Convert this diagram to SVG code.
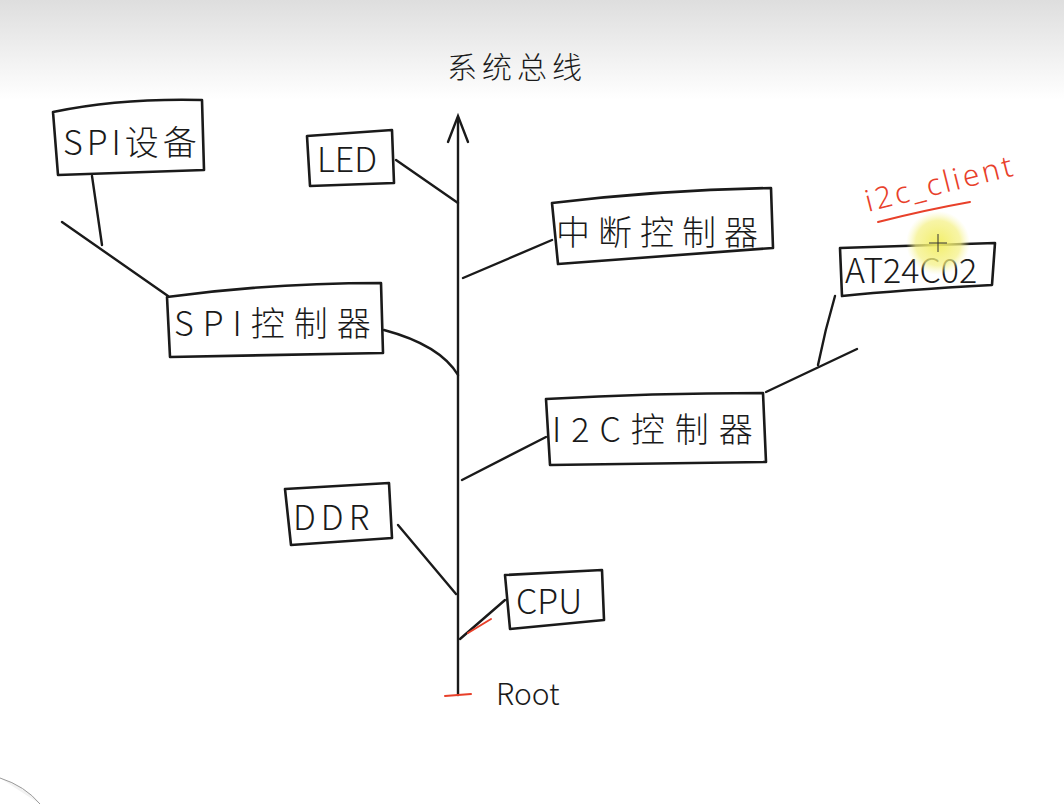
<svg xmlns="http://www.w3.org/2000/svg" width="1064" height="804" viewBox="0 0 1064 804">
<defs>
<linearGradient id="bg" x1="0" y1="0" x2="0" y2="1">
<stop offset="0" stop-color="#dedede"/>
<stop offset="1" stop-color="#ffffff"/>
</linearGradient>
<radialGradient id="hl">
<stop offset="0" stop-color="#f2ee60" stop-opacity="0.95"/>
<stop offset="0.7" stop-color="#f4f080" stop-opacity="0.7"/>
<stop offset="1" stop-color="#f8f6b0" stop-opacity="0"/>
</radialGradient>
</defs>
<style>
.box{fill:none;stroke:#1a1a1a;stroke-width:2.6;stroke-linejoin:round;stroke-linecap:round}
.ln{fill:none;stroke:#1a1a1a;stroke-width:2.4;stroke-linecap:round}
.red{fill:none;stroke:#e8402a;stroke-width:2;stroke-linecap:round}
.t{font-family:"Noto Sans CJK SC","Noto Sans",sans-serif;fill:#1a1a1a;font-weight:300}
</style>
<rect width="1064" height="804" fill="#ffffff"/>
<rect width="1064" height="100" fill="url(#bg)"/>
<path d="M0 778 Q25 786 40 804" fill="#f2f2f2" stroke="#999" stroke-width="1"/>
<g id="title"><text class="t" x="447" y="78" font-size="30" letter-spacing="5">系统总线</text></g>
<g id="connectors">
<path class="ln" d="M458 118 L458 695"/>
<path class="ln" d="M448 142 L458 116 L468 142"/>
<path class="ln" d="M396 160 L458 203"/>
<path class="ln" d="M463 278 L552 240"/>
<path class="ln" d="M384 330 Q440 345 458 375"/>
<path class="ln" d="M62 222 L168 296"/>
<path class="ln" d="M92 176 L102 245"/>
<path class="ln" d="M462 480 L546 437"/>
<path class="ln" d="M766 392 L857 349"/>
<path class="ln" d="M835 296 Q825 330 818 365"/>
<path class="ln" d="M398 525 L456 594"/>
<path class="ln" d="M460 639 L505 600"/>
<path class="red" d="M468 633 L491 619"/>
<path class="red" d="M445 696 L471 694"/>
</g>
<g id="spi-device"><path class="box" d="M53 112 Q120 98 202 100 L204 170 L58 175 Z"/><text class="t" x="63" y="155" font-size="34" letter-spacing="4">SPI设备</text></g>
<g id="led"><path class="box" d="M307 136 L392 130 L394 183 L310 186 Z"/><text class="t" x="317" y="172" font-size="34">LED</text></g>
<g id="interrupt-controller"><path class="box" d="M552 203 Q660 190 771 188 L773 248 L558 264 Z"/><text class="t" x="556" y="245" font-size="34" letter-spacing="8">中断控制器</text></g>
<g id="at24c02"><path class="box" d="M840 248 L995 243 L992 285 Q900 290 842 296 Z"/><text class="t" x="845" y="283" font-size="34">AT24C02</text></g>
<g id="spi-controller"><path class="box" d="M167 297 Q270 283 381 283 L383 353 L170 357 Z"/><text class="t" x="174" y="336" font-size="34" letter-spacing="9">SPI控制器</text></g>
<g id="i2c-controller"><path class="box" d="M546 399 Q650 393 763 393 L766 462 L550 465 Z"/><text class="t" x="552" y="442" font-size="34" letter-spacing="10">I2C控制器</text></g>
<g id="ddr"><path class="box" d="M285 489 L389 483 L392 538 L291 545 Z"/><text class="t" x="293" y="530" font-size="34" letter-spacing="5">DDR</text></g>
<g id="cpu"><path class="box" d="M505 575 L602 570 L604 620 L510 629 Z"/><text class="t" x="516" y="614" font-size="34">CPU</text></g>
<g id="root"><text class="t" x="496" y="705" font-size="30">Root</text></g>
<g id="i2c-client"><text x="868" y="212" font-size="30" font-family="Noto Sans,sans-serif" fill="#e8402a" font-weight="300" letter-spacing="3" transform="rotate(-14 868 212)">i2c_client</text><path class="red" d="M878 222 Q925 210 970 202"/></g>
<circle cx="938" cy="243" r="32" fill="url(#hl)"/>
<path d="M938 234 V252 M929 243 H947" stroke="#333" stroke-width="1" fill="none"/>
</svg>
